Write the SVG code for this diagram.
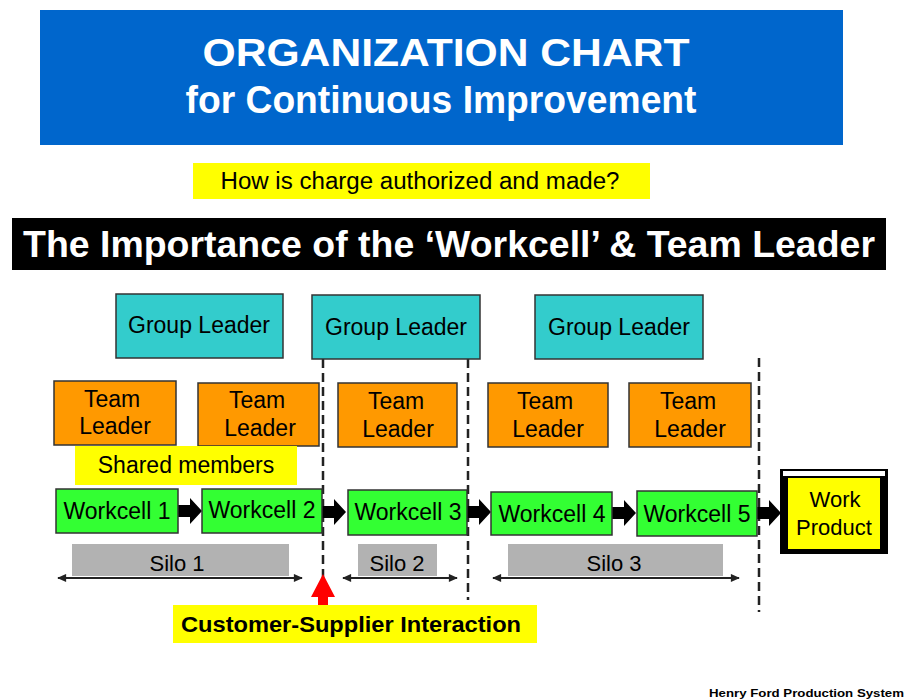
<svg xmlns="http://www.w3.org/2000/svg" width="904" height="700" viewBox="0 0 904 700">
<defs>
<style>
.t{font-family:"Liberation Sans",Arial,sans-serif;fill:#000;text-anchor:middle}
.box{stroke:#333;stroke-width:1.5}
.gl{fill:#33cccc}
.tl{fill:#ff9900}
.wc{fill:#33ff33}
.silo{fill:#b2b2b2}
.dash{stroke:#222;stroke-width:2.5;stroke-dasharray:9,5;fill:none}
.dbl{stroke:#222;stroke-width:2;fill:none;marker-start:url(#ah);marker-end:url(#ah)}
</style>
<marker id="ah" viewBox="0 0 10 10" refX="9" refY="5" markerWidth="10" markerHeight="9" orient="auto-start-reverse" markerUnits="userSpaceOnUse"><path d="M0,0.5 L10,5 L0,9.5 Z" fill="#222"/></marker>
<path id="blk" d="M0,-6 L12,-6 L12,-13 L24,0 L12,13 L12,6 L0,6 Z" fill="#000"/>
</defs>

<g id="title">
<rect x="40" y="10" width="803" height="135" fill="#0066cc"/>
<text x="446" y="66" class="t" style="fill:#fff;font-weight:bold;font-size:39px" textLength="487" lengthAdjust="spacingAndGlyphs">ORGANIZATION CHART</text>
<text x="441" y="113" class="t" style="fill:#fff;font-weight:bold;font-size:38px" textLength="511" lengthAdjust="spacingAndGlyphs">for Continuous Improvement</text>
</g>

<g id="question">
<rect x="193" y="163" width="457" height="36" fill="#ffff00"/>
<text x="420" y="189" class="t" style="font-size:23px" textLength="399" lengthAdjust="spacingAndGlyphs">How is charge authorized and made?</text>
</g>

<g id="banner">
<rect x="12" y="218" width="874" height="52" fill="#000"/>
<text x="449" y="257" class="t" style="fill:#fff;font-weight:bold;font-size:36px" textLength="852" lengthAdjust="spacingAndGlyphs">The Importance of the ‘Workcell’ &amp; Team Leader</text>
</g>

<g id="connectors">
<line x1="323" y1="359" x2="323" y2="600" class="dash"/>
<line x1="468" y1="359" x2="468" y2="600" class="dash"/>
<line x1="759" y1="358" x2="759" y2="612" class="dash"/>
<line x1="58" y1="578" x2="302" y2="578" class="dbl"/>
<line x1="343" y1="578" x2="457" y2="578" class="dbl"/>
<line x1="493" y1="578" x2="739" y2="578" class="dbl"/>
<use href="#blk" x="178" y="511"/>
<use href="#blk" x="322" y="512"/>
<use href="#blk" x="467" y="512"/>
<use href="#blk" x="612" y="513"/>
<use href="#blk" x="757" y="513"/>
<path d="M323,574 L335,597 L328,597 L328,612 L318,612 L318,597 L311,597 Z" fill="#ff0000"/>
</g>

<g id="group-leader-1"><rect x="116" y="294" width="167" height="64" class="box gl"/><text x="199" y="333" class="t" style="font-size:23px">Group Leader</text></g>
<g id="group-leader-2"><rect x="312" y="295" width="168" height="64" class="box gl"/><text x="396" y="335" class="t" style="font-size:23px">Group Leader</text></g>
<g id="group-leader-3"><rect x="535" y="295" width="168" height="64" class="box gl"/><text x="619" y="335" class="t" style="font-size:23px">Group Leader</text></g>

<g id="team-leader-1"><rect x="54" y="381" width="122" height="64" class="box tl"/><text x="112" y="407" class="t" style="font-size:23px">Team</text><text x="115" y="434" class="t" style="font-size:23px">Leader</text></g>
<g id="team-leader-2"><rect x="198" y="383" width="121" height="63" class="box tl"/><text x="257" y="408" class="t" style="font-size:23px">Team</text><text x="260" y="436" class="t" style="font-size:23px">Leader</text></g>
<g id="team-leader-3"><rect x="338" y="383" width="119" height="64" class="box tl"/><text x="396" y="409" class="t" style="font-size:23px">Team</text><text x="398" y="437" class="t" style="font-size:23px">Leader</text></g>
<g id="team-leader-4"><rect x="488" y="383" width="120" height="64" class="box tl"/><text x="545" y="409" class="t" style="font-size:23px">Team</text><text x="548" y="437" class="t" style="font-size:23px">Leader</text></g>
<g id="team-leader-5"><rect x="629" y="383" width="122" height="64" class="box tl"/><text x="688" y="409" class="t" style="font-size:23px">Team</text><text x="690" y="437" class="t" style="font-size:23px">Leader</text></g>

<g id="shared-members"><rect x="75" y="446" width="222" height="39" fill="#ffff00"/><text x="186" y="473" class="t" style="font-size:23px">Shared members</text></g>

<g id="workcell-1"><rect x="56" y="489" width="122" height="44" class="box wc"/><text x="117" y="519" class="t" style="font-size:23px">Workcell 1</text></g>
<g id="workcell-2"><rect x="202" y="489" width="120" height="44" class="box wc"/><text x="262" y="518" class="t" style="font-size:23px">Workcell 2</text></g>
<g id="workcell-3"><rect x="348" y="490" width="119" height="45" class="box wc"/><text x="408" y="520" class="t" style="font-size:23px">Workcell 3</text></g>
<g id="workcell-4"><rect x="491" y="492" width="121" height="43" class="box wc"/><text x="552" y="522" class="t" style="font-size:23px">Workcell 4</text></g>
<g id="workcell-5"><rect x="637" y="491" width="120" height="45" class="box wc"/><text x="697" y="522" class="t" style="font-size:23px">Workcell 5</text></g>

<g id="work-product">
<rect x="780" y="469" width="108" height="85" fill="#000"/>
<rect x="783" y="471" width="102" height="5" fill="#fff"/>
<rect x="788" y="478" width="92" height="71" fill="#ffff00"/>
<text x="835" y="507" class="t" style="font-size:22px">Work</text>
<text x="834" y="535" class="t" style="font-size:22px">Product</text>
</g>

<g id="silo-1"><rect x="72" y="544" width="217" height="32" class="silo"/><text x="177" y="571" class="t" style="font-size:22px">Silo 1</text></g>
<g id="silo-2"><rect x="358" y="544" width="79" height="32" class="silo"/><text x="397" y="571" class="t" style="font-size:22px">Silo 2</text></g>
<g id="silo-3"><rect x="508" y="544" width="215" height="32" class="silo"/><text x="614" y="571" class="t" style="font-size:22px">Silo 3</text></g>

<g id="customer-supplier">
<rect x="173" y="605" width="364" height="38" fill="#ffff00"/>
<text x="351" y="632" class="t" style="font-weight:bold;font-size:22px" textLength="340" lengthAdjust="spacingAndGlyphs">Customer-Supplier Interaction</text>
</g>

<text x="709" y="697" style="font-family:'Liberation Sans',Arial,sans-serif;font-weight:bold;font-size:10px" textLength="195" lengthAdjust="spacingAndGlyphs">Henry Ford Production System</text>
</svg>
